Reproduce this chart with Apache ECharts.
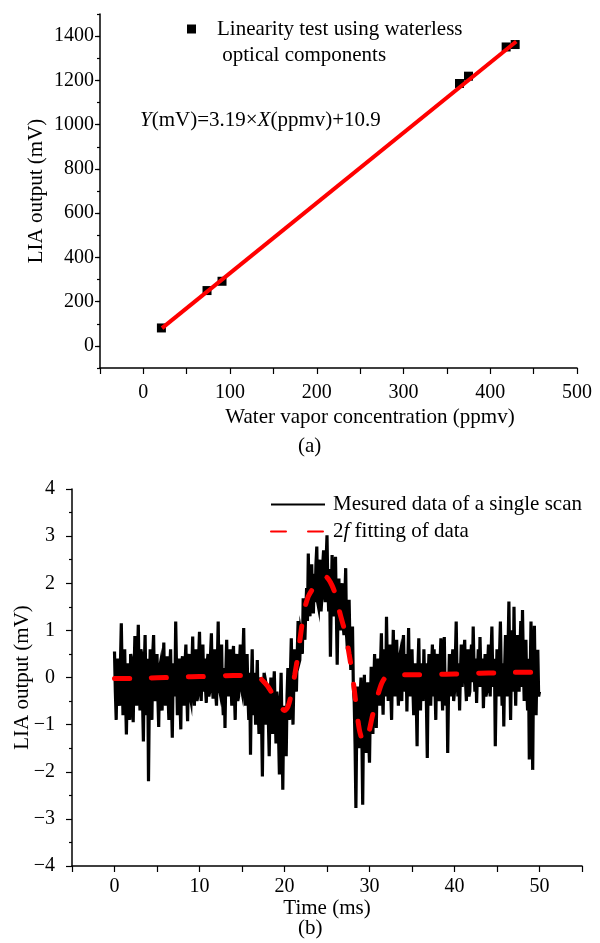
<!DOCTYPE html>
<html>
<head>
<meta charset="utf-8">
<style>html,body{margin:0;padding:0;background:#fff}#c{width:600px;height:943px}</style>
<script src="https://cdn.jsdelivr.net/npm/echarts@6/dist/echarts.min.js"></script>
</head>
<body>
<div id="c"></div>
<script>
// ---- Panel (a): linearity test ----
const linX = [20.8, 73.4, 90.7, 364.5, 374.9, 418.3, 428.7];
const linY = [81, 250, 292, 1186, 1219, 1351, 1362];
const fitLineX = [21.5, 430];
const fitLineY = [80, 1376];
const aXTicks = [0, 100, 200, 300, 400, 500];
const aYTicks = [0, 200, 400, 600, 800, 1000, 1200, 1400];

// ---- Panel (b): single scan and 2f fit ----
const scanStep = 0.1; // ms between samples
const scanValues = [
  0.55, -0.3, -0.9, 0.2, 0.4, -0.5, -0.6, 0.3, 1.15, 0.1,
  -0.8, 0.2, 0.6, -0.4, -1.21, -0.2, 0.3, -0.6, -0.9, 0.5,
  0.4, -0.3, -0.95, 0.1, 0.88, -0.2, -0.6, 0.4, 1.12, -0.1,
  -0.7, 0.6, 0.5, -0.5, -1.36, 0.2, 0.9, -0.3, -0.8, 0.4,
  -2.2, -0.4, 0.6, -0.3, -0.9, 0.5, 0.9, -0.2, -0.5, 0.3,
  0.5, -0.4, -1.05, 0.2, 0.3, -0.5, -0.7, 0.1, 0.74, -0.3,
  -0.6, 0.3, 0.45, -0.4, -0.9, 0.2, 0.6, -0.5, -1.28, 0.1,
  0.3, -0.4, 1.19, 0.2, -0.8, -0.1, 0.4, -0.5, -1.1, 0.3,
  0.45, -0.2, -0.6, 0.3, 0.7, -0.3, -0.93, 0.1, 0.5, -0.4,
  -0.5, 0.2, 0.87, -0.3, -0.6, 0.3, 0.6, -0.5, -0.4, 0.4,
  0.97, 0.1, -0.5, 0.2, 0.7, -0.3, 0.4, -0.2, -0.54, 0.3,
  0.5, -0.4, -0.3, 0.5, 0.94, -0.1, -0.45, 0.2, 0.6, -0.3,
  -0.6, 0.3, 1.19, -0.2, -0.3, 0.4, 0.7, -0.4, -0.8, 0.2,
  -1.07, 0.1, 0.8, -0.2, -0.4, 0.3, 0.6, -0.1, -0.6, 0.4,
  0.67, -0.3, -0.9, 0.1, 0.5, -0.5, -0.4, 0.3, 0.7, -0.2,
  -0.3, 0.4, 1.05, -0.2, -0.6, 0.2, 0.5, -0.4, -0.9, 0.1,
  -1.64, -0.2, 0.6, -0.5, -0.8, 0.1, -1.0, -0.3, 0.37, -0.6,
  -1.2, 0.0, -0.2, -0.9, -2.1, -0.4, 0.1, -0.6, -1.0, -0.2,
  -0.3, -0.9, -1.67, -0.5, 0.0, -0.8, -1.2, -0.3, 0.13, -0.7,
  -1.4, -0.3, -0.5, -1.2, -2.06, -0.6, 0.1, -1.0, -2.38, -0.8,
  -0.6, -1.1, -1.67, -0.4, 0.2, -0.5, -0.9, 0.1, 0.83, -0.2,
  -1.0, -0.1, 0.6, 0.1, -0.3, 0.5, 1.2, 0.3, 0.37, 1.0,
  0.9, 0.5, 1.68, 1.0, 0.8, 1.4, 1.9, 1.2, 2.63, 1.5,
  1.3, 2.1, 2.4, 1.5, 1.36, 2.2, 1.6, 2.4, 2.78, 1.6,
  1.5, 2.3, 2.5, 1.4, 1.7, 2.4, 2.7, 1.8, 1.6, 2.5,
  3.02, 1.9, 1.4, 2.3, 0.44, 1.6, 2.6, 1.5, 1.3, 2.2,
  2.56, 1.4, 0.27, 1.5, 2.1, 1.2, 1.0, 1.9, 2.0, 1.1,
  0.9, 1.7, 2.32, 0.9, 0.6, 1.3, 1.65, 0.7, 0.16, 0.9,
  1.08, -0.2, -0.5, -1.4, -2.77, -1.0, -0.19, -0.9, -1.5, -0.4,
  0.0, -1.2, -2.7, -0.8, 0.06, -1.1, -1.6, -0.5, -0.1, -1.3,
  -1.81, -0.6, 0.23, -0.5, -1.2, -0.2, 0.5, -0.4, -1.07, 0.1,
  0.4, -0.3, -0.6, 0.3, 0.94, -0.2, -0.79, 0.2, 0.6, -0.4,
  1.29, 0.2, -0.5, 0.4, 0.7, -0.3, -0.9, 0.2, 1.01, -0.1,
  -0.4, 0.3, 0.8, -0.1, -0.6, 0.4, 0.5, -0.3, -0.5, 0.6,
  0.9, -0.1, -0.3, 0.5, -0.72, 0.2, 1.05, -0.2, -0.4, 0.4,
  0.6, -0.2, -0.8, 0.1, 0.3, -0.5, -1.46, 0.2, 0.83, -0.3,
  -0.7, 0.3, -0.2, -0.5, 0.6, -0.2, 0.3, -0.6, -1.71, 0.0,
  0.5, -0.3, -0.6, 0.2, 0.7, -0.4, 0.6, -0.2, -0.9, 0.3,
  0.5, -0.2, -0.5, 0.3, 0.83, -0.1, -0.7, 0.4, 0.86, -0.3,
  -0.6, 0.1, -1.6, -0.3, 0.5, -0.2, -0.4, 0.3, 0.6, -0.5,
  -0.3, 0.4, 1.19, 0.0, -0.4, 0.3, -0.7, 0.1, 0.7, -0.2,
  -0.2, 0.5, 0.8, -0.1, -0.5, 0.3, 0.6, -0.4, -0.3, 0.4,
  0.7, -0.1, 1.08, 0.2, -0.3, 0.4, -0.54, 0.1, 0.6, -0.2,
  0.86, 0.1, -0.2, 0.4, -0.65, 0.0, 0.5, -0.4, -0.3, 0.3,
  0.7, -0.1, -0.4, 0.5, 1.08, 0.0, -0.2, 0.4, -1.46, -0.2,
  0.6, -0.2, -0.4, 0.5, 1.19, 0.1, -0.6, 0.3, -1.04, 0.2,
  0.9, 0.0, -0.4, 0.6, 1.61, 0.2, -0.9, 0.3, 1.0, -0.3,
  1.5, 0.2, -0.6, 0.4, 0.9, -0.1, -0.3, 0.6, 1.2, -0.2,
  1.43, 0.3, -0.5, 0.5, 0.8, -0.2, -0.7, 0.4, -1.74, 0.0,
  1.19, -0.3, -1.96, 0.2, 1.1, -0.2, -0.8, 0.3, 0.59, -0.4,
  -0.3
];
const fit2fT = [0, 2, 4, 6, 8, 10, 12, 14, 16, 17, 17.5, 18, 18.5, 19, 19.5, 20, 20.4, 20.8, 21.2, 21.6, 22, 22.4, 22.8, 23.2, 23.6, 24, 24.4, 24.8, 25.2, 25.6, 26, 26.4, 26.8, 27.2, 27.6, 28, 28.4, 28.8, 29.2, 29.5, 29.9, 30.3, 30.7, 31.1, 31.5, 32, 33, 35, 37, 39, 41, 43, 45, 47, 49, 50];
const fit2fV = [-0.02, -0.02, -0.01, 0.0, 0.01, 0.02, 0.03, 0.04, 0.04, 0.0, -0.08, -0.18, -0.32, -0.46, -0.6, -0.7, -0.62, -0.35, 0.05, 0.5, 1.05, 1.48, 1.72, 1.85, 1.95, 2.04, 2.12, 2.14, 2.08, 1.95, 1.76, 1.45, 1.18, 0.92, 0.5, 0.05, -0.55, -1.1, -1.34, -1.37, -1.18, -0.85, -0.55, -0.3, -0.1, 0.02, 0.06, 0.06, 0.06, 0.07, 0.08, 0.09, 0.1, 0.11, 0.11, 0.11];
const bXTicks = [0, 10, 20, 30, 40, 50];

const FONT = 'Liberation Serif';
const minus = v => (v < 0 ? '\u2212' + Math.abs(v) : String(v));

const scanData = scanValues.map((v, i) => [+(i * scanStep).toFixed(2), v]);
const fitData = fit2fT.map((t, i) => [t, fit2fV[i]]);
const linData = linX.map((x, i) => [x, linY[i]]);
const fitLineData = fitLineX.map((x, i) => [x, fitLineY[i]]);

const axisLineBlack = { show: true, onZero: false, lineStyle: { color: '#000', width: 1.5 } };
const tickTxt = { color: '#000', fontFamily: FONT, fontSize: 20 };
const txt = { color: '#000', fontFamily: FONT, fontSize: 21 };
const tickLine = { color: '#000', width: 1.2 };

const chart = echarts.init(document.getElementById('c'), null, { renderer: 'canvas' });
chart.setOption({
  animation: false,
  backgroundColor: '#fff',
  textStyle: { fontFamily: FONT, color: '#000' },
  grid: [
    { left: 100, right: 23, top: 14, bottom: 575 },
    { left: 72, right: 18, top: 489, bottom: 77 }
  ],
  xAxis: [
    {
      gridIndex: 0, type: 'value', position: 'bottom', min: -50, max: 500, interval: 50,
      axisLine: axisLineBlack,
      axisTick: { show: true, length: 6, lineStyle: tickLine },
      axisLabel: Object.assign({ customValues: aXTicks, margin: 15, formatter: v => String(v) }, tickTxt),
      splitLine: { show: false },
      name: 'Water vapor concentration (ppmv)', nameLocation: 'middle', nameGap: 39,
      nameMoveOverlap: false,
      nameTextStyle: Object.assign({ padding: [0, 0, 0, 63] }, txt)
    },
    {
      gridIndex: 1, type: 'value', position: 'bottom', min: -5, max: 55, interval: 5,
      axisLine: axisLineBlack,
      axisTick: { show: true, length: 6, lineStyle: tickLine },
      axisLabel: Object.assign({ customValues: bXTicks, margin: 11, formatter: v => String(v) }, tickTxt),
      splitLine: { show: false },
      name: 'Time (ms)', nameLocation: 'middle', nameGap: 32,
      nameMoveOverlap: false,
      nameTextStyle: txt
    }
  ],
  yAxis: [
    {
      gridIndex: 0, type: 'value', position: 'left', min: -100, max: 1500, interval: 100,
      axisLine: axisLineBlack,
      axisTick: { show: true, length: 3, lineStyle: tickLine },
      axisLabel: Object.assign({ customValues: aYTicks, margin: 6, formatter: v => String(v) }, tickTxt),
      splitLine: { show: false },
      name: 'LIA output (mV)', nameLocation: 'middle', nameGap: 53, nameRotate: 90,
      nameMoveOverlap: false,
      nameTextStyle: txt
    },
    {
      gridIndex: 0, type: 'value', position: 'left', offset: 0, min: -100, max: 1500, interval: 100,
      axisLine: { show: false, onZero: false },
      axisTick: { show: true, length: 5, customValues: aYTicks, lineStyle: tickLine },
      axisLabel: { show: false },
      splitLine: { show: false }
    },
    {
      gridIndex: 1, type: 'value', position: 'left', min: -4, max: 4, interval: 1,
      axisLine: axisLineBlack,
      axisTick: { show: true, length: 6, lineStyle: tickLine },
      minorTick: { show: true, splitNumber: 2, length: 3, lineStyle: tickLine },
      axisLabel: Object.assign({ margin: 17, formatter: minus }, tickTxt),
      splitLine: { show: false },
      name: 'LIA output (mV)', nameLocation: 'middle', nameGap: 39, nameRotate: 90,
      nameMoveOverlap: false,
      nameTextStyle: txt
    }
  ],
  legend: [
    {
      left: 187, top: -10, padding: 0, orient: 'vertical',
      itemWidth: 9, itemHeight: 9,
      itemStyle: { opacity: 1 },
      data: [{ name: 'lin', icon: 'rect' }],
      formatter: () => ' \nLinearity test using waterless\n optical components',
      textStyle: Object.assign({ lineHeight: 26, padding: [0, 0, 0, 16] }, txt)
    },
    {
      left: 270, top: 494, padding: 0, orient: 'vertical',
      itemWidth: 54, itemHeight: 20, itemGap: 6,
      itemStyle: { opacity: 0 },
      data: ['scan', 'fit'],
      formatter: n => n === 'scan' ? 'Mesured data of a single scan' : '{r|2}{i|f} fitting of data',
      textStyle: Object.assign({
        padding: [0, 0, 0, 3],
        rich: {
          r: { fontFamily: FONT, fontSize: 21, color: '#000' },
          i: { fontFamily: FONT, fontSize: 21, color: '#000', fontStyle: 'italic' }
        }
      }, txt)
    }
  ],
  graphic: [
    {
      type: 'text', left: 140, top: 110,
      style: {
        text: '{i|Y}(mV)=3.19×{i|X}(ppmv)+10.9',
        font: '21px ' + FONT, fill: '#000',
        rich: {
          i: { fontStyle: 'italic', fontFamily: FONT, fontSize: 21, fill: '#000' }
        }
      }
    },
    { type: 'text', left: 298, top: 436, style: { text: '(a)', font: '21px ' + FONT, fill: '#000' } },
    { type: 'text', left: 298, top: 918, style: { text: '(b)', font: '21px ' + FONT, fill: '#000' } }
  ],
  series: [
    {
      name: 'lin', type: 'scatter', xAxisIndex: 0, yAxisIndex: 0,
      symbol: 'rect', symbolSize: 9, itemStyle: { color: '#000', opacity: 1 },
      data: linData, z: 2
    },
    {
      name: 'linfit', type: 'line', xAxisIndex: 0, yAxisIndex: 0,
      symbol: 'none', lineStyle: { color: '#ff0000', width: 4 },
      data: fitLineData, z: 3
    },
    {
      name: 'scan', type: 'line', xAxisIndex: 1, yAxisIndex: 2,
      symbol: 'none', color: '#000',
      lineStyle: { color: '#000', width: 3.2, join: 'miter' },
      data: scanData, z: 2
    },
    {
      name: 'fit', type: 'line', xAxisIndex: 1, yAxisIndex: 2,
      symbol: 'none', smooth: 0.3, color: '#ff0000',
      lineStyle: { color: '#ff0000', width: 5, type: [15, 22], cap: 'round' },
      data: fitData, z: 3
    }
  ]
});
</script>
</body>
</html>
